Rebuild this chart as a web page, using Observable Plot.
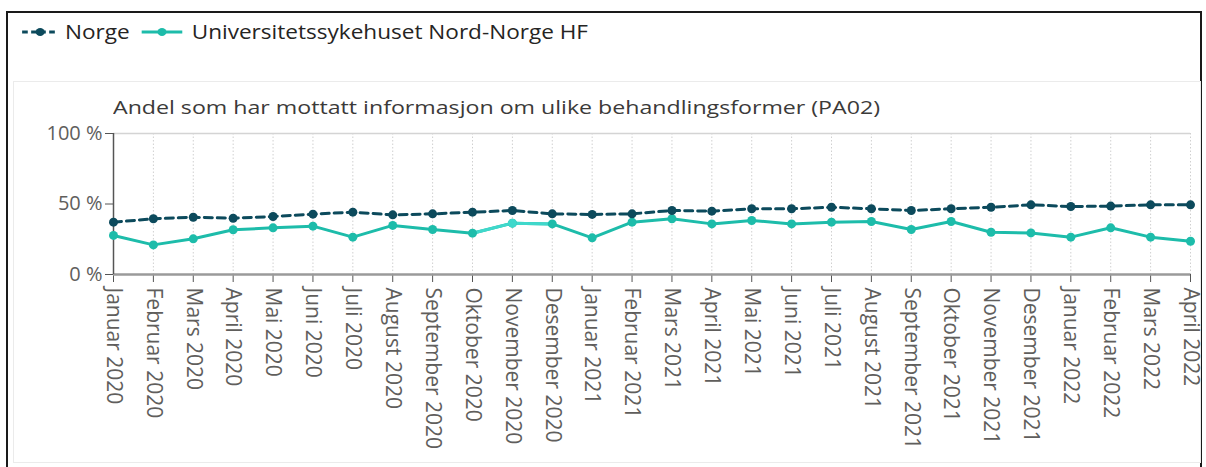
<!DOCTYPE html>
<html><head><meta charset="utf-8">
<script src="https://cdn.jsdelivr.net/npm/d3@7"></script>
<script src="https://cdn.jsdelivr.net/npm/@observablehq/plot@0.6"></script>
<style>
body{margin:0;background:#fff;width:1206px;height:467px;overflow:hidden;position:relative;font-family:"Open Sans",sans-serif;}
#outer{position:absolute;left:6px;top:11px;width:1196px;height:470px;border:2px solid #1a1a1a;box-sizing:border-box;}
#panel{position:absolute;left:13px;top:81px;width:1188px;height:382px;border:1px solid #ebebeb;box-sizing:border-box;}
#legend{position:absolute;left:21px;top:18px;font-size:20px;color:#252423;display:flex;align-items:center;white-space:nowrap;transform-origin:0 50%;}
#legend .item{display:flex;align-items:center;margin-right:10px;}
#legend .item:last-child{margin-right:0;}
#legend svg{margin-right:5px;}
#legend .item + .item svg{margin-right:7px;}
#title{position:absolute;left:113px;top:94px;font-size:18.5px;color:#3b3a39;white-space:nowrap;transform-origin:0 50%;}
#chart{position:absolute;left:0;top:120px;}
</style></head>
<body>
<div id="outer"></div>
<div id="panel"></div>
<div id="legend"></div>
<div id="title">Andel som har mottatt informasjon om ulike behandlingsformer (PA02)</div>
<div id="chart"></div>
<script>
const months = ["Januar 2020","Februar 2020","Mars 2020","April 2020","Mai 2020","Juni 2020","Juli 2020","August 2020","September 2020","Oktober 2020","November 2020","Desember 2020",
"Januar 2021","Februar 2021","Mars 2021","April 2021","Mai 2021","Juni 2021","Juli 2021","August 2021","September 2021","Oktober 2021","November 2021","Desember 2021",
"Januar 2022","Februar 2022","Mars 2022","April 2022"];
const norge = [37.1,39.5,40.6,39.9,41.1,42.8,44.2,42.3,43.0,44.2,45.4,43.0,
42.6,43.0,45.4,44.9,46.6,46.6,47.7,46.6,45.4,46.6,47.7,49.4,
48.2,48.5,49.4,49.4];
const unn = [27.7,21.0,25.3,31.7,33.1,34.3,26.5,34.8,31.9,29.3,36.4,35.9,
26.0,37.1,39.5,35.9,38.3,35.9,37.1,37.6,31.9,37.6,30.0,29.5,
26.5,33.1,26.5,23.6];
const seriesNames = ["Norge","Universitetssykehuset Nord-Norge HF"];
const colors = ["#0c4a5c","#1dbcaa"];
const highlightColor = "#3fd8cb";
const highlightMonths = ["Oktober 2020","November 2020","Desember 2020"];
const yTicks = [0,50,100];

const idx = months.map((m,i)=>i);
const dN = months.map((m,i)=>({i, m, v:norge[i]}));
const dU = months.map((m,i)=>({i, m, v:unn[i]}));
const dUh = dU.filter(d => highlightMonths.includes(d.m));

// legend
const leg = document.getElementById("legend");
seriesNames.forEach((s,i)=>{
  const it = document.createElement("div"); it.className="item";
  const w = i===0 ? 34 : 38;
  const dash = i===0 ? 'stroke-dasharray="5,3"' : '';
  it.innerHTML = `<svg width="${w}" height="12"><line x1="1" x2="${w-1}" y1="6" y2="6" stroke="${colors[i]}" stroke-width="3" ${dash}/><circle cx="${w/2}" cy="6" r="4" fill="${colors[i]}"/></svg><span>${s}</span>`;
  leg.appendChild(it);
});
function fitWidth(el, target){
  const w = el.getBoundingClientRect().width;
  if (w > 0) el.style.transform = `scaleX(${target / w})`;
}
fitWidth(leg, 567);
fitWidth(document.getElementById("title"), 767);

const chart = Plot.plot({
  width: 1206,
  height: 344,
  marginLeft: 113,
  marginRight: 16,
  marginTop: 13,
  marginBottom: 190,
  style: {fontFamily: '"Open Sans", sans-serif', fontSize: "20px", color: "#605e5c", background: "transparent"},
  x: {type: "linear", domain: [0, months.length - 1], label: null},
  y: {domain: [0,100], label: null},
  marks: [
    Plot.ruleX(idx, {stroke: "#d0d0d0", strokeDasharray: "1.5,2", strokeWidth: 1}),
    Plot.ruleY([100], {stroke: "#d4d4d4", strokeWidth: 1.5}),
    Plot.axisY({ticks: yTicks, tickFormat: d => d + " %", tickSize: 8, tickPadding: 3, stroke: "#555", fill: "#605e5c", fontSize: 20, label: null}),
    Plot.axisX({ticks: idx, tickFormat: i => months[i], tickRotate: 90, tickSize: 8, tickPadding: 5, stroke: "#555", fill: "#605e5c", fontSize: 21, label: null}),
    Plot.ruleY([0], {stroke: "#9a9a9a", strokeWidth: 2.5}),
    Plot.ruleX([0], {y1: 0, y2: 100, stroke: "#555", strokeWidth: 1.5}),
    Plot.line(dU, {x: "i", y: "v", stroke: colors[1], strokeWidth: 3}),
    Plot.line(dUh, {x: "i", y: "v", stroke: highlightColor, strokeWidth: 3}),
    Plot.dot(dU, {x: "i", y: "v", fill: colors[1], r: 4.5}),
    Plot.dot(dUh.filter(d => d.m === "November 2020"), {x: "i", y: "v", fill: highlightColor, r: 4.5}),
    Plot.line(dN, {x: "i", y: "v", stroke: colors[0], strokeWidth: 3, strokeDasharray: "8,5"}),
    Plot.dot(dN, {x: "i", y: "v", fill: colors[0], r: 4.5})
  ]
});
document.getElementById("chart").appendChild(chart);
</script>
</body></html>
